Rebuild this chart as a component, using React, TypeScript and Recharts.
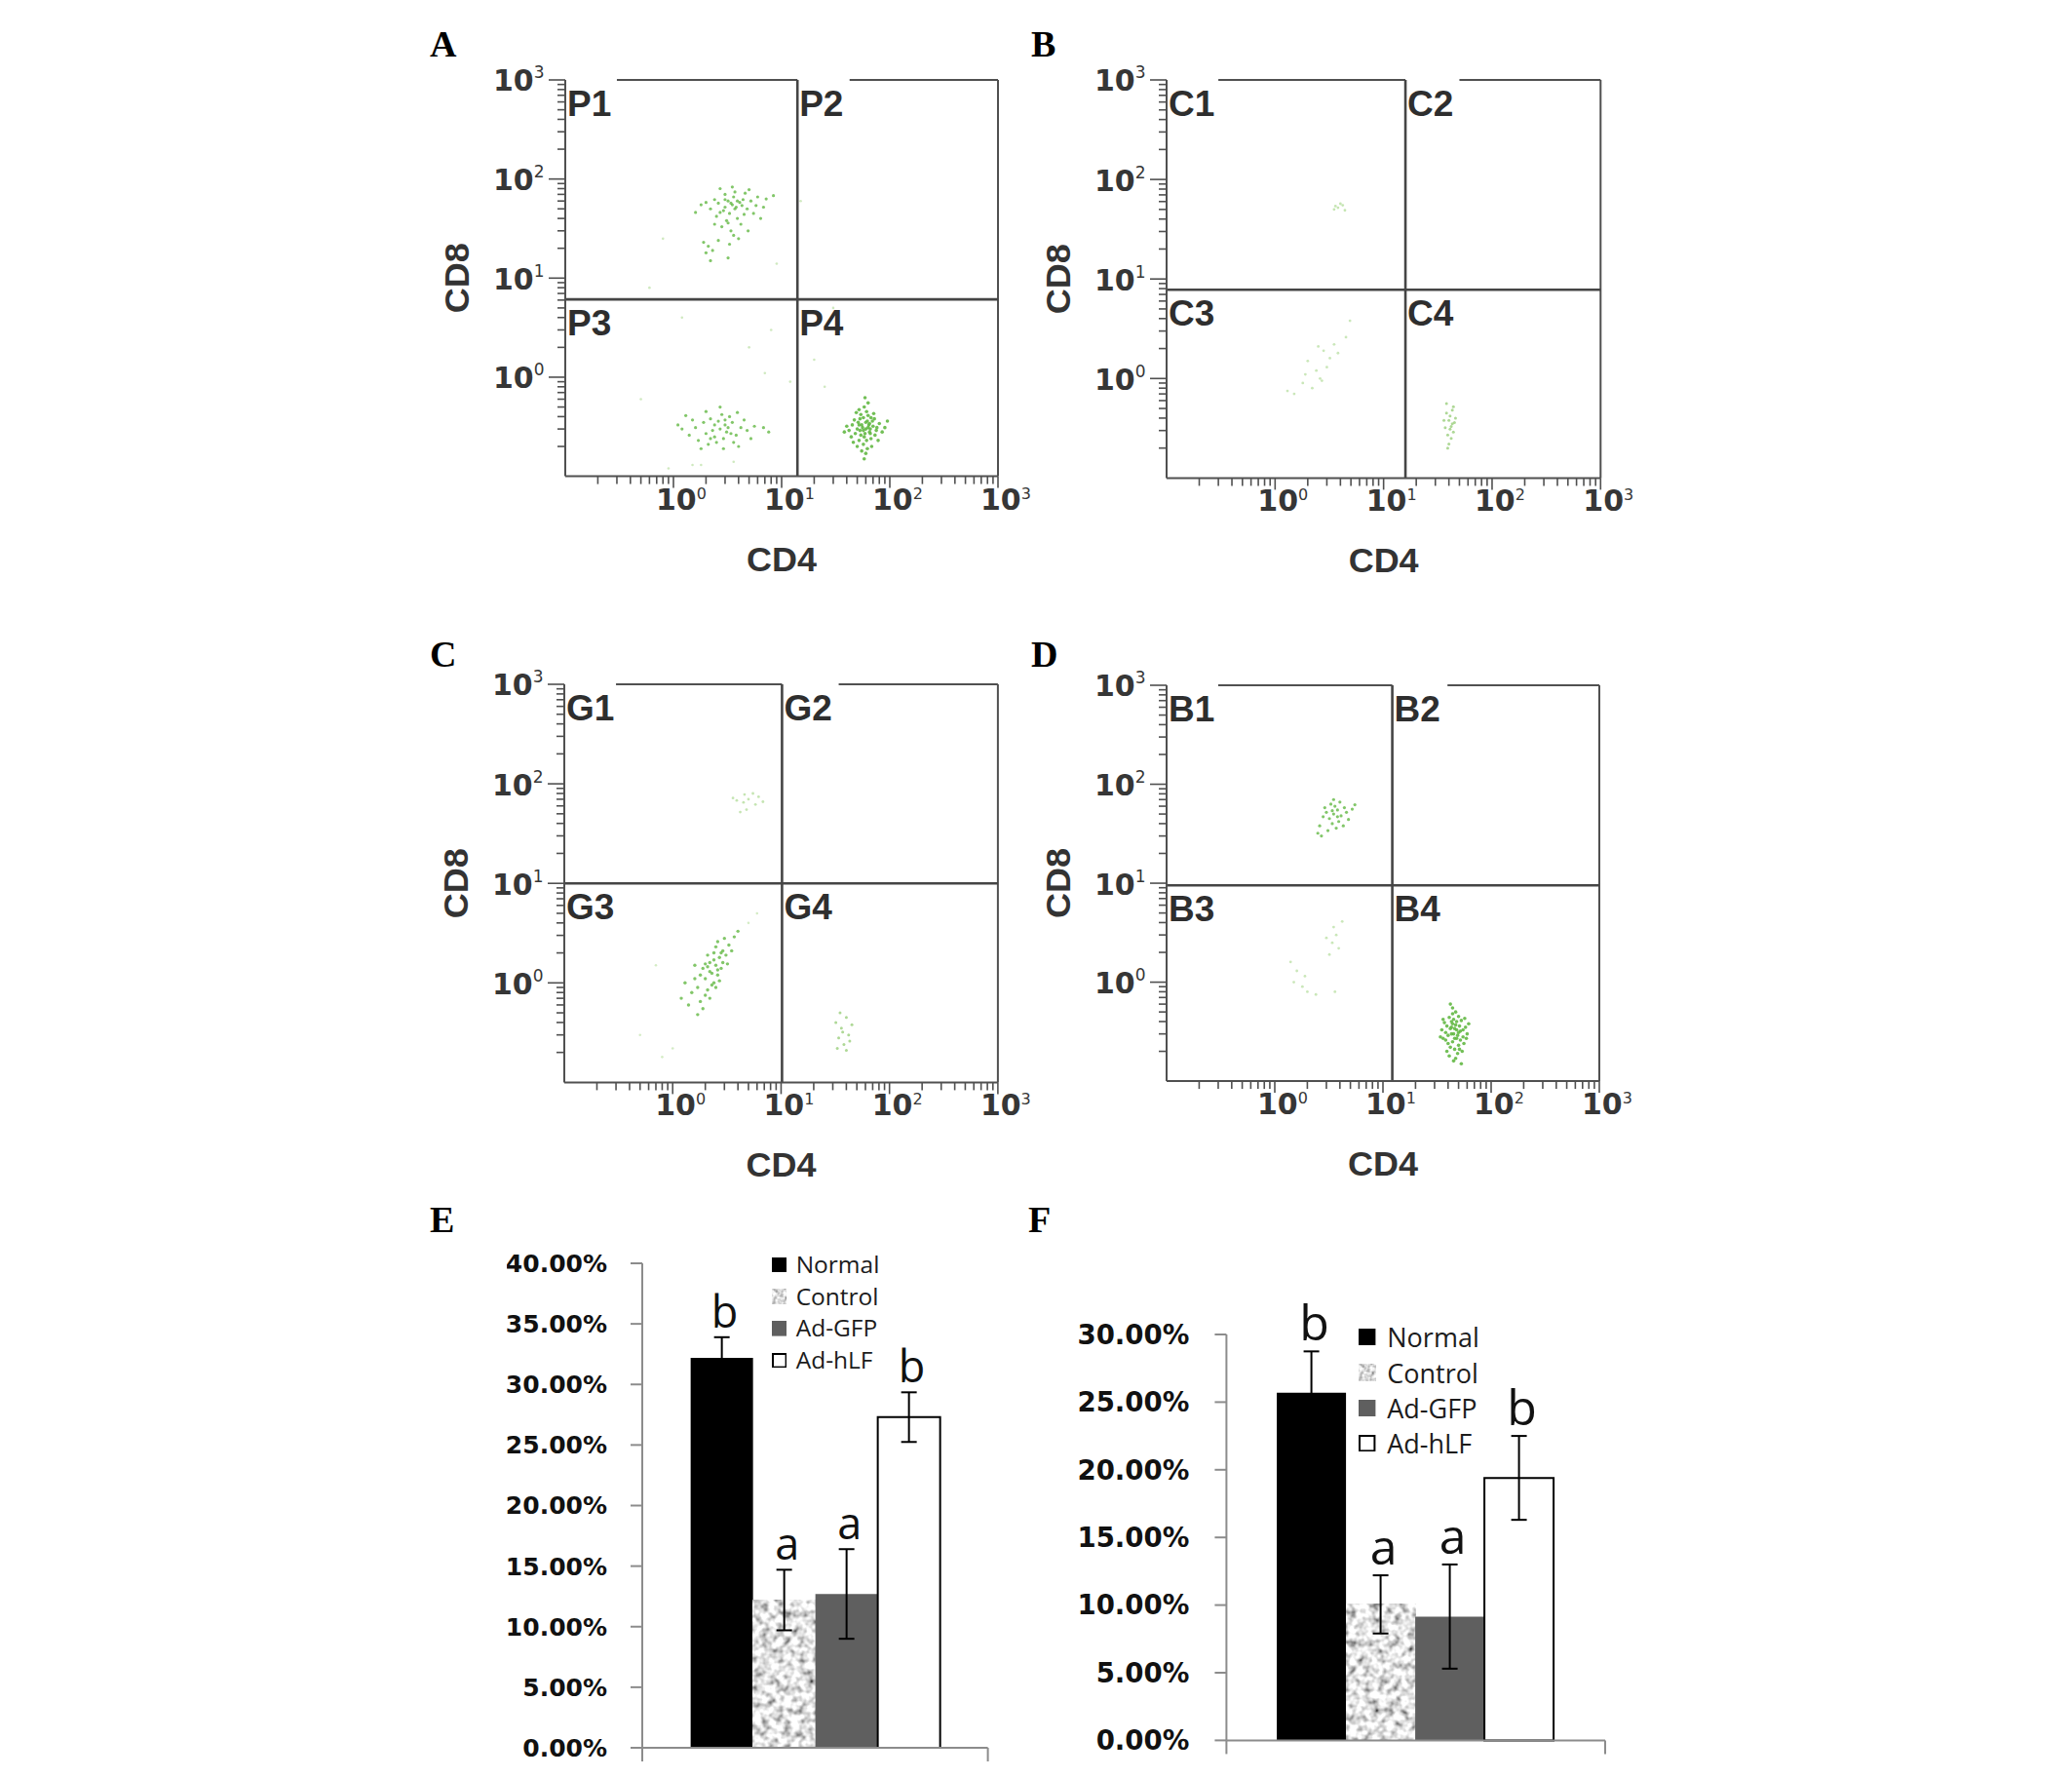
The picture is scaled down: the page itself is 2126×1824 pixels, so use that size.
import React from "react";
import {
  Bar,
  BarChart,
  ErrorBar,
  LabelList,
  Legend,
  ReferenceArea,
  ReferenceLine,
  Scatter,
  ScatterChart,
  XAxis,
  YAxis,
} from "recharts";

type Pt = [number, number];

// ---- flow panels: CD4 (x) vs CD8 (y), both log scaled ----
const majorTicks = [1, 10, 100, 1000];
const minorTicks = [
  0.2, 0.3, 0.4, 0.5, 0.6, 0.7, 0.8, 0.9,
  2, 3, 4, 5, 6, 7, 8, 9,
  20, 30, 40, 50, 60, 70, 80, 90,
  200, 300, 400, 500, 600, 700, 800, 900,
];
const logTicks = [...majorTicks, ...minorTicks];

// gate positions per panel (A, B, C, D)
const gateCD4 = [14, 15.9, 10.2, 12.2];
const gateCD8 = [6.1, 7.8, 10, 9.5];
// where the second piece of the top frame starts
const frameResume = [42.5, 50, 34, 39.5];
const quadNames = [
  ["P1", "P2", "P3", "P4"],
  ["C1", "C2", "C3", "C4"],
  ["G1", "G2", "G3", "G4"],
  ["B1", "B2", "B3", "B4"],
];

const aP1: Pt[] = [
  [3.5, 55], [3.2, 60], [3.8, 52], [4.1, 58], [2.9, 48], [3.6, 66], [3.3, 45], [4.4, 62],
  [2.6, 57], [3.9, 40], [3.1, 38], [4.8, 50], [2.4, 62], [3.7, 74], [5.2, 60], [2.2, 50],
  [4.2, 35], [3.4, 30], [2.8, 33], [6.0, 66], [5.5, 45], [2.0, 58], [4.6, 72], [3.0, 70],
  [7.2, 63], [6.4, 40], [1.8, 55], [2.5, 42], [3.6, 27], [4.0, 25], [2.1, 21], [2.0, 18],
  [2.3, 19], [1.9, 23], [2.6, 24], [3.3, 22], [4.9, 30], [5.8, 54], [8.4, 68], [2.7, 80],
  [3.5, 83], [4.5, 44], [3.0, 52], [3.9, 60], [2.4, 35], [1.6, 46], [5.0, 78], [6.8, 52],
  [3.2, 16], [2.2, 15], [3.4, 57], [3.7, 50], [3.0, 62], [4.3, 54], [2.7, 46], [3.2, 36],
];
const aP3: Pt[] = [
  [2.7, 0.3], [2.4, 0.33], [3.1, 0.28], [2.0, 0.27], [3.5, 0.35], [1.6, 0.31], [2.9, 0.24],
  [4.2, 0.31], [2.2, 0.38], [1.4, 0.26], [3.8, 0.26], [2.5, 0.22], [1.9, 0.35], [3.3, 0.4],
  [4.8, 0.29], [1.2, 0.3], [2.1, 0.21], [2.8, 0.42], [3.0, 0.33], [1.7, 0.23], [4.5, 0.37],
  [5.6, 0.32], [2.3, 0.29], [1.5, 0.37], [3.6, 0.22], [2.6, 0.36], [2.0, 0.45], [6.8, 0.31],
  [1.1, 0.33], [3.9, 0.44], [2.9, 0.19], [1.8, 0.19], [4.0, 0.2], [2.4, 0.25], [3.2, 0.31],
  [5.2, 0.24], [1.3, 0.41], [2.7, 0.5], [7.6, 0.28], [3.4, 0.27], [2.2, 0.24], [3.0, 0.37],
];
const aP4: Pt[] = [
  [60, 0.3], [55, 0.33], [65, 0.28], [50, 0.3], [70, 0.32], [58, 0.25], [62, 0.36], [48, 0.27],
  [75, 0.29], [53, 0.38], [67, 0.24], [45, 0.33], [80, 0.34], [57, 0.21], [63, 0.41], [42, 0.29],
  [72, 0.38], [52, 0.23], [61, 0.45], [68, 0.2], [47, 0.37], [85, 0.28], [56, 0.31], [64, 0.33],
  [59, 0.27], [66, 0.3], [51, 0.35], [73, 0.26], [44, 0.25], [54, 0.42], [78, 0.23], [62, 0.19],
  [49, 0.44], [69, 0.36], [58, 0.5], [60, 0.17], [40, 0.32], [90, 0.31], [55, 0.18], [71, 0.43],
  [46, 0.22], [63, 0.55], [57, 0.39], [65, 0.34], [53, 0.29], [61, 0.23], [67, 0.39], [50, 0.2],
  [76, 0.31], [59, 0.62], [58, 0.15], [38, 0.28], [95, 0.36], [52, 0.47], [57, 0.29], [63, 0.31],
  [54, 0.26], [66, 0.27], [60, 0.35], [52, 0.33],
];
const aStray: Pt[] = [
  [0.6, 8], [1.2, 4], [20, 1.5], [30, 5], [0.9, 0.12], [1.5, 0.13], [12, 0.9], [8, 3],
  [15, 60], [25, 0.8], [0.5, 0.6], [5, 2], [9, 14], [1.8, 0.13], [3.6, 0.14], [0.8, 25], [7, 1.1],
];

const bC1: Pt[] = [[3.8, 52], [4.2, 55], [3.5, 50], [4.4, 49], [4.0, 57], [3.6, 54]];
const bC3: Pt[] = [
  [2.0, 1.5], [2.4, 1.2], [2.8, 1.9], [3.2, 1.6], [2.6, 1.0], [1.8, 0.9], [3.5, 2.2], [2.2, 0.8],
  [1.5, 0.7], [3.0, 1.3], [4.5, 2.6], [2.7, 0.95], [1.9, 1.1], [3.8, 1.8], [1.3, 0.75], [2.5, 2.1],
  [4.9, 3.8],
];
const bC4: Pt[] = [
  [40, 0.38], [42, 0.33], [38, 0.45], [44, 0.29], [39, 0.27], [41, 0.42], [45, 0.36], [37, 0.32],
  [43, 0.48], [40, 0.22], [46, 0.4], [38, 0.56], [42, 0.25], [36, 0.38], [44, 0.52], [41, 0.31],
  [39, 0.2], [43, 0.35],
];

const cG1: Pt[] = [
  [4.5, 65], [5.0, 70], [3.6, 72], [6.2, 74], [4.8, 55], [5.5, 80], [3.9, 68], [6.8, 66],
  [4.2, 52], [5.8, 62], [4.6, 78],
];
const cG3: Pt[] = [
  [2.2, 1.3], [2.5, 1.5], [2.0, 1.1], [2.7, 1.8], [2.3, 0.95], [1.8, 1.2], [2.9, 2.1], [2.4, 1.7],
  [2.1, 0.85], [2.6, 1.2], [1.9, 1.4], [3.1, 1.9], [2.2, 1.6], [2.8, 1.4], [1.7, 0.9], [2.5, 2.3],
  [2.0, 0.75], [3.3, 2.4], [2.4, 1.0], [1.6, 1.1], [2.9, 1.6], [2.1, 1.9], [1.5, 0.8], [2.6, 2.6],
  [3.5, 2.1], [1.8, 0.65], [2.3, 1.25], [2.0, 1.55], [1.4, 0.6], [2.7, 1.05], [3.0, 2.8],
  [1.9, 0.55], [2.2, 0.7], [1.6, 1.5], [3.7, 2.9], [2.5, 0.9], [1.3, 1.0], [2.8, 2.0], [1.7, 0.48],
  [2.4, 2.0], [4.0, 3.3], [1.2, 0.7], [2.6, 1.35], [2.1, 1.45], [3.2, 1.55],
];
const cG4: Pt[] = [
  [32, 0.4], [36, 0.35], [40, 0.45], [34, 0.28], [38, 0.24], [42, 0.3], [35, 0.5], [40, 0.21],
  [45, 0.38], [37, 0.32], [43, 0.26], [33, 0.22],
];
const cStray: Pt[] = [[0.5, 0.3], [0.8, 0.18], [1.0, 0.22], [5, 4], [6, 5], [0.7, 1.5]];

const dB1: Pt[] = [
  [3.5, 50], [3.8, 55], [3.2, 45], [4.1, 48], [3.6, 60], [3.0, 52], [4.4, 58], [3.4, 40],
  [2.8, 47], [3.9, 42], [4.6, 52], [3.3, 63], [2.6, 38], [4.0, 66], [3.7, 36], [2.9, 58],
  [4.8, 44], [3.1, 34], [2.5, 32], [5.2, 56], [3.5, 70], [4.3, 38], [2.7, 30], [3.8, 47],
  [3.4, 54], [5.5, 62],
];
const dB3: Pt[] = [
  [1.5, 1.0], [1.8, 0.9], [1.6, 1.3], [2.0, 0.8], [3.4, 2.5], [3.7, 3.0], [3.9, 2.2], [3.2, 1.9],
  [1.4, 1.6], [2.4, 0.75], [3.5, 3.6], [3.0, 2.8], [4.2, 4.1], [1.9, 1.15], [3.6, 0.8],
];
const dB4: Pt[] = [
  [45, 0.3], [42, 0.34], [48, 0.27], [40, 0.29], [52, 0.32], [44, 0.25], [47, 0.37], [38, 0.31],
  [55, 0.28], [43, 0.4], [50, 0.23], [36, 0.27], [58, 0.35], [46, 0.21], [41, 0.44], [53, 0.41],
  [39, 0.36], [49, 0.19], [44, 0.48], [56, 0.24], [35, 0.33], [60, 0.3], [47, 0.17], [42, 0.22],
  [51, 0.36], [45, 0.42], [37, 0.39], [54, 0.2], [43, 0.3], [48, 0.33], [40, 0.24], [50, 0.45],
  [46, 0.27], [62, 0.38], [39, 0.2], [44, 0.55], [52, 0.26], [41, 0.18], [57, 0.43], [47, 0.5],
  [34, 0.28], [49, 0.29], [43, 0.35], [55, 0.33], [38, 0.26], [45, 0.16], [51, 0.21], [48, 0.4],
  [42, 0.6], [59, 0.27], [36, 0.42], [46, 0.34], [53, 0.15], [44, 0.38], [50, 0.31],
];

// ---- bar panels E and F ----
const groups = ["Normal", "Control", "Ad-GFP", "Ad-hLF"];
const sigLetters = ["b", "a", "a", "b"];
const pctE = [32.2, 12.2, 12.7, 27.3];
const errE = [1.7, 2.5, 3.7, 2.05];
const pctF = [25.7, 10.05, 9.15, 19.4];
const errF = [3.05, 2.15, 3.85, 3.1];
const ticksE = [0, 5, 10, 15, 20, 25, 30, 35, 40];
const ticksF = [0, 5, 10, 15, 20, 25, 30];

const groupFill = ["#000000", "#c4c4c4", "#5f5f5f", "#ffffff"];

const FRAME = "#505050";
const BAR_AXIS = "#8c8c8c";
const WIDE = "'DejaVu Sans', Verdana, sans-serif";
const SANS = "'Liberation Sans', Arial, sans-serif";
const UI = "'Open Sans', sans-serif";
const SERIF = "'Liberation Serif', 'Times New Roman', serif";

const toXY = (pts: Pt[]) => pts.map(([x, y]) => ({ x, y }));

function exponent(v: number) {
  return String(Math.round(Math.log10(v)));
}

function TickY(props: any) {
  const { x, y, payload } = props;
  const major = majorTicks.includes(payload.value);
  return (
    <g>
      <line x1={x - (major ? 17 : 8)} x2={x} y1={y} y2={y} stroke={FRAME} strokeWidth={1.6} />
      {major && (
        <text x={x - 74} y={y + 11.5} fill="#363636" fontFamily={WIDE} fontWeight="bold" fontSize={30}>
          10
          <tspan dy={-13} fontSize={17} fontWeight="normal">
            {exponent(payload.value)}
          </tspan>
        </text>
      )}
    </g>
  );
}

function TickX(props: any) {
  const { x, y, payload } = props;
  const major = majorTicks.includes(payload.value);
  return (
    <g>
      <line x1={x} x2={x} y1={y} y2={y + (major ? 12 : 8)} stroke={FRAME} strokeWidth={1.6} />
      {major && (
        <text x={x - 18} y={y + 34} fill="#363636" fontFamily={WIDE} fontWeight="bold" fontSize={30}>
          10
          <tspan dy={-11} fontSize={16} fontWeight="normal">
            {exponent(payload.value)}
          </tspan>
        </text>
      )}
    </g>
  );
}

// category axis tick: marks at both edges of the single category band
function BandEdgeTick(props: any) {
  const { x, y, payload, half } = props;
  const h = payload && typeof payload.offset === "number" && payload.offset > 0 ? payload.offset : half;
  return (
    <g>
      <line x1={x - h} x2={x - h} y1={y} y2={y + 14} stroke={BAR_AXIS} strokeWidth={2} />
      <line x1={x + h} x2={x + h} y1={y} y2={y + 14} stroke={BAR_AXIS} strokeWidth={2} />
    </g>
  );
}

function AxisTitle(props: any) {
  const { viewBox, text, vertical } = props;
  if (!viewBox) return null;
  const style = { fontFamily: SANS, fontWeight: "bold" as const, fontSize: 36, fill: "#333" };
  if (vertical) {
    const cx = viewBox.x + viewBox.width - 99;
    const cy = viewBox.y + viewBox.height / 2;
    return (
      <text x={cx} y={cy} transform={`rotate(-90 ${cx} ${cy})`} textAnchor="middle" {...style}>
        {text}
      </text>
    );
  }
  return (
    <text x={viewBox.x + viewBox.width / 2} y={viewBox.y + 97} textAnchor="middle" {...style}>
      {text}
    </text>
  );
}

function QuadLabel(props: any) {
  const { viewBox, text } = props;
  if (!viewBox) return null;
  return (
    <text x={viewBox.x + 2} y={viewBox.y + 37} fontFamily={SANS} fontWeight="bold" fontSize={37} fill="#2e2e2e">
      {text}
    </text>
  );
}

const dot = (fill: string, opacity: number, r: number) => (p: any) =>
  <circle cx={p.cx} cy={p.cy} r={r} fill={fill} fillOpacity={opacity} />;

type Cluster = { pts: Pt[]; color: string; opacity: number; r: number };
type Box = { left: number; top: number; width: number; height: number };

function FlowPanel({ box, idx, clusters }: { box: Box; idx: number; clusters: Cluster[] }) {
  const ml = 140, mt = 22, mr = 40, xh = 120, mb = 5;
  const gx = gateCD4[idx];
  const gy = gateCD8[idx];
  const names = quadNames[idx];
  const quads = [
    { x1: 0.1, x2: gx, y1: gy, y2: 1000 },
    { x1: gx, x2: 1000, y1: gy, y2: 1000 },
    { x1: 0.1, x2: gx, y1: 0.1, y2: gy },
    { x1: gx, x2: 1000, y1: 0.1, y2: gy },
  ];
  return (
    <div style={{ position: "absolute", left: box.left - ml, top: box.top - mt }}>
      <ScatterChart
        width={box.width + ml + mr}
        height={box.height + mt + xh + mb}
        margin={{ top: mt, right: mr, bottom: mb, left: 0 }}
      >
        <XAxis
          dataKey="x"
          type="number"
          scale="log"
          domain={[0.1, 1000]}
          allowDataOverflow
          ticks={logTicks}
          interval={0}
          tickSize={0}
          tickMargin={0}
          tickLine={false}
          tick={(p: any) => <TickX {...p} />}
          height={xh}
          axisLine={{ stroke: FRAME, strokeWidth: 2 }}
          label={<AxisTitle text="CD4" />}
        />
        <YAxis
          dataKey="y"
          type="number"
          scale="log"
          domain={[0.1, 1000]}
          allowDataOverflow
          ticks={logTicks}
          interval={0}
          tickSize={0}
          tickMargin={0}
          tickLine={false}
          tick={(p: any) => <TickY {...p} />}
          width={ml}
          axisLine={{ stroke: FRAME, strokeWidth: 2 }}
          label={<AxisTitle text="CD8" vertical />}
        />
        {quads.map((q, i) => (
          <ReferenceArea
            key={names[i]}
            {...q}
            fill="none"
            fillOpacity={0}
            stroke="none"
            ifOverflow="visible"
            label={<QuadLabel text={names[i]} />}
          />
        ))}
        <ReferenceLine x={1000} stroke={FRAME} strokeWidth={2} ifOverflow="visible" />
        <ReferenceLine
          segment={[{ x: 0.3, y: 1000 }, { x: gx, y: 1000 }]}
          stroke={FRAME}
          strokeWidth={2}
          ifOverflow="visible"
        />
        <ReferenceLine
          segment={[{ x: frameResume[idx], y: 1000 }, { x: 1000, y: 1000 }]}
          stroke={FRAME}
          strokeWidth={2}
          ifOverflow="visible"
        />
        <ReferenceLine x={gx} stroke="#454545" strokeWidth={2.6} ifOverflow="visible" />
        <ReferenceLine y={gy} stroke="#454545" strokeWidth={2.6} ifOverflow="visible" />
        {clusters.map((c, i) => (
          <Scatter
            key={i}
            data={toXY(c.pts)}
            shape={dot(c.color, c.opacity, c.r)}
            isAnimationActive={false}
          />
        ))}
      </ScatterChart>
    </div>
  );
}

function buildRow(values: number[], errs: number[]) {
  const row: Record<string, number | string> = { cat: "all" };
  values.forEach((v, i) => {
    row[`s${i}`] = v;
    row[`s${i}_err`] = errs[i];
    row[`s${i}_cap`] = errs[i];
    row[`s${i}_sig`] = sigLetters[i];
  });
  return [row];
}

const grainShape = (p: any) => (
  <rect x={p.x} y={p.y} width={p.width} height={p.height} filter="url(#grain)" />
);

type BarLayout = {
  left: number;
  top: number;
  width: number;
  height: number;
  yAxisWidth: number;
  marginTop: number;
  marginRight: number;
  marginBottom: number;
  tickFont: number;
  tickMargin: number;
  sigFont: number;
  sigGap: number;
  gapPct: string;
  legendLeft: number;
  legendTop: number;
  legendFont: number;
  legendSwatch: number;
  legendRow: number;
  legendGap: number;
};

function SigLabel(props: any, L: BarLayout) {
  const vb = props.viewBox && props.viewBox.width !== undefined ? props.viewBox : props;
  const x = vb.x + vb.width / 2 + 3;
  return (
    <text x={x} y={vb.y - L.sigGap} textAnchor="middle" fontFamily={UI} fontSize={L.sigFont} fill="#111">
      {props.value}
    </text>
  );
}

function LegendBox({ L }: { L: BarLayout }) {
  return (
    <div style={{ fontFamily: UI, fontSize: L.legendFont, color: "#1c1c1c", lineHeight: 1 }}>
      {groups.map((g, i) => (
        <div key={g} style={{ display: "flex", alignItems: "center", height: L.legendRow }}>
          <svg width={L.legendSwatch} height={L.legendSwatch} style={{ marginRight: L.legendGap }}>
            {i === 1 ? (
              <rect x={0} y={0} width={L.legendSwatch} height={L.legendSwatch} filter="url(#grainLight)" />
            ) : (
              <rect
                x={i === 3 ? 1 : 0}
                y={i === 3 ? 1 : 0}
                width={L.legendSwatch - (i === 3 ? 2 : 0)}
                height={L.legendSwatch - (i === 3 ? 2 : 0)}
                fill={groupFill[i]}
                stroke={i === 3 ? "#000" : "none"}
                strokeWidth={2}
              />
            )}
          </svg>
          <span>{g}</span>
        </div>
      ))}
    </div>
  );
}

function BarPanel({
  values,
  errs,
  ticks,
  L,
}: {
  values: number[];
  errs: number[];
  ticks: number[];
  L: BarLayout;
}) {
  const data = buildRow(values, errs);
  const yMax = ticks[ticks.length - 1];
  const plotWidth = L.width - L.yAxisWidth - L.marginRight;
  return (
    <div style={{ position: "absolute", left: L.left, top: L.top }}>
      <BarChart
        width={L.width}
        height={L.height}
        data={data}
        margin={{ top: L.marginTop, right: L.marginRight, bottom: L.marginBottom, left: 0 }}
        barCategoryGap={L.gapPct}
        barGap={0}
      >
        <XAxis
          dataKey="cat"
          interval={0}
          tickSize={0}
          tickMargin={0}
          tickLine={false}
          tick={(p: any) => <BandEdgeTick {...p} half={plotWidth / 2} />}
          height={30}
          axisLine={{ stroke: BAR_AXIS, strokeWidth: 2 }}
        />
        <YAxis
          type="number"
          domain={[0, yMax]}
          ticks={ticks}
          interval={0}
          width={L.yAxisWidth}
          tickSize={12}
          tickMargin={L.tickMargin}
          axisLine={{ stroke: BAR_AXIS, strokeWidth: 2 }}
          tickLine={{ stroke: BAR_AXIS, strokeWidth: 2 }}
          tick={{ fill: "#111", fontFamily: WIDE, fontWeight: "bold", fontSize: L.tickFont }}
          tickFormatter={(v: number) => `${v.toFixed(2)}%`}
        />
        <Legend
          layout="vertical"
          align="center"
          verticalAlign="middle"
          wrapperStyle={{ left: L.legendLeft, top: L.legendTop, width: "auto" }}
          content={() => <LegendBox L={L} />}
        />
        {groups.flatMap((g, i) => [
          <Bar
            key={`v${i}`}
            name={g}
            dataKey={`s${i}`}
            stackId={`k${i}`}
            fill={groupFill[i]}
            stroke={i === 3 ? "#000" : "none"}
            strokeWidth={2}
            shape={i === 1 ? grainShape : undefined}
            isAnimationActive={false}
          >
            <ErrorBar dataKey={`s${i}_err`} direction="y" width={8} stroke="#000" strokeWidth={2} />
          </Bar>,
          <Bar
            key={`c${i}`}
            dataKey={`s${i}_cap`}
            stackId={`k${i}`}
            fill="none"
            legendType="none"
            isAnimationActive={false}
          >
            <LabelList dataKey={`s${i}_sig`} content={(p: any) => SigLabel(p, L)} />
          </Bar>,
        ])}
      </BarChart>
    </div>
  );
}

const layoutE: BarLayout = {
  left: 520, top: 1260, width: 520, height: 570,
  yAxisWidth: 139, marginTop: 36, marginRight: 26.4, marginBottom: 7,
  tickFont: 25, tickMargin: 24, sigFont: 45, sigGap: 10, gapPct: "14%",
  legendLeft: 271.7, legendTop: 21, legendFont: 24.5, legendSwatch: 15.6, legendRow: 32.7, legendGap: 9.4,
};

const layoutF: BarLayout = {
  left: 1100, top: 1290, width: 580, height: 540,
  yAxisWidth: 158.4, marginTop: 79, marginRight: 33, marginBottom: 14.6,
  tickFont: 27.6, tickMargin: 26, sigFont: 50, sigGap: 11, gapPct: "13.3%",
  legendLeft: 294.3, legendTop: 63.6, legendFont: 27, legendSwatch: 17.4, legendRow: 36.3, legendGap: 11.6,
};

const flowBoxes: Box[] = [
  { left: 580, top: 81.7, width: 444, height: 406.6 },
  { left: 1197.3, top: 82.2, width: 445.3, height: 408.4 },
  { left: 579, top: 702.2, width: 444.9, height: 408.4 },
  { left: 1197.3, top: 702.9, width: 444, height: 406.1 },
];

const DENSE = "#63b844";
const FAINT = "#9fd47f";

const flowClusters: Cluster[][] = [
  [
    { pts: aP1, color: DENSE, opacity: 0.8, r: 1.6 },
    { pts: aP3, color: DENSE, opacity: 0.8, r: 1.6 },
    { pts: aP4, color: DENSE, opacity: 0.9, r: 1.8 },
    { pts: aStray, color: FAINT, opacity: 0.5, r: 1.3 },
  ],
  [
    { pts: bC1, color: FAINT, opacity: 0.6, r: 1.4 },
    { pts: bC3, color: FAINT, opacity: 0.55, r: 1.4 },
    { pts: bC4, color: "#8cc86a", opacity: 0.7, r: 1.5 },
  ],
  [
    { pts: cG1, color: FAINT, opacity: 0.6, r: 1.4 },
    { pts: cG3, color: DENSE, opacity: 0.8, r: 1.7 },
    { pts: cG4, color: "#8cc86a", opacity: 0.7, r: 1.5 },
    { pts: cStray, color: FAINT, opacity: 0.45, r: 1.3 },
  ],
  [
    { pts: dB1, color: DENSE, opacity: 0.8, r: 1.6 },
    { pts: dB3, color: FAINT, opacity: 0.55, r: 1.4 },
    { pts: dB4, color: DENSE, opacity: 0.9, r: 1.8 },
  ],
];

const panelLetters = [
  { t: "A", x: 441, y: 58 },
  { t: "B", x: 1058, y: 58 },
  { t: "C", x: 441, y: 684 },
  { t: "D", x: 1058, y: 684 },
  { t: "E", x: 441, y: 1264 },
  { t: "F", x: 1055, y: 1264 },
];

export default function App() {
  return (
    <div style={{ position: "absolute", left: 0, top: 0, width: 2126, height: 1824, background: "#fff" }}>
      <svg width={0} height={0} style={{ position: "absolute" }}>
        <defs>
          <filter id="grain" x="0" y="0" width="100%" height="100%" filterUnits="objectBoundingBox">
            <feTurbulence type="fractalNoise" baseFrequency="0.13" numOctaves={2} seed={7} />
            <feColorMatrix
              type="matrix"
              values="1.9 0 0 0 -0.18  1.9 0 0 0 -0.18  1.9 0 0 0 -0.18  0 0 0 0 1"
            />
          </filter>
          <filter id="grainLight" x="0" y="0" width="100%" height="100%" filterUnits="objectBoundingBox">
            <feTurbulence type="fractalNoise" baseFrequency="0.25" numOctaves={2} seed={3} />
            <feColorMatrix
              type="matrix"
              values="1.3 0 0 0 0.02  1.3 0 0 0 0.02  1.3 0 0 0 0.02  0 0 0 0 1"
            />
          </filter>
        </defs>
      </svg>

      {flowBoxes.map((b, i) => (
        <FlowPanel key={i} box={b} idx={i} clusters={flowClusters[i]} />
      ))}

      <BarPanel values={pctE} errs={errE} ticks={ticksE} L={layoutE} />
      <BarPanel values={pctF} errs={errF} ticks={ticksF} L={layoutF} />

      <svg
        width={2126}
        height={1824}
        style={{ position: "absolute", left: 0, top: 0, pointerEvents: "none" }}
      >
        {panelLetters.map((p) => (
          <text key={p.t} x={p.x} y={p.y} fontFamily={SERIF} fontWeight="bold" fontSize={38} fill="#000">
            {p.t}
          </text>
        ))}
      </svg>
    </div>
  );
}
